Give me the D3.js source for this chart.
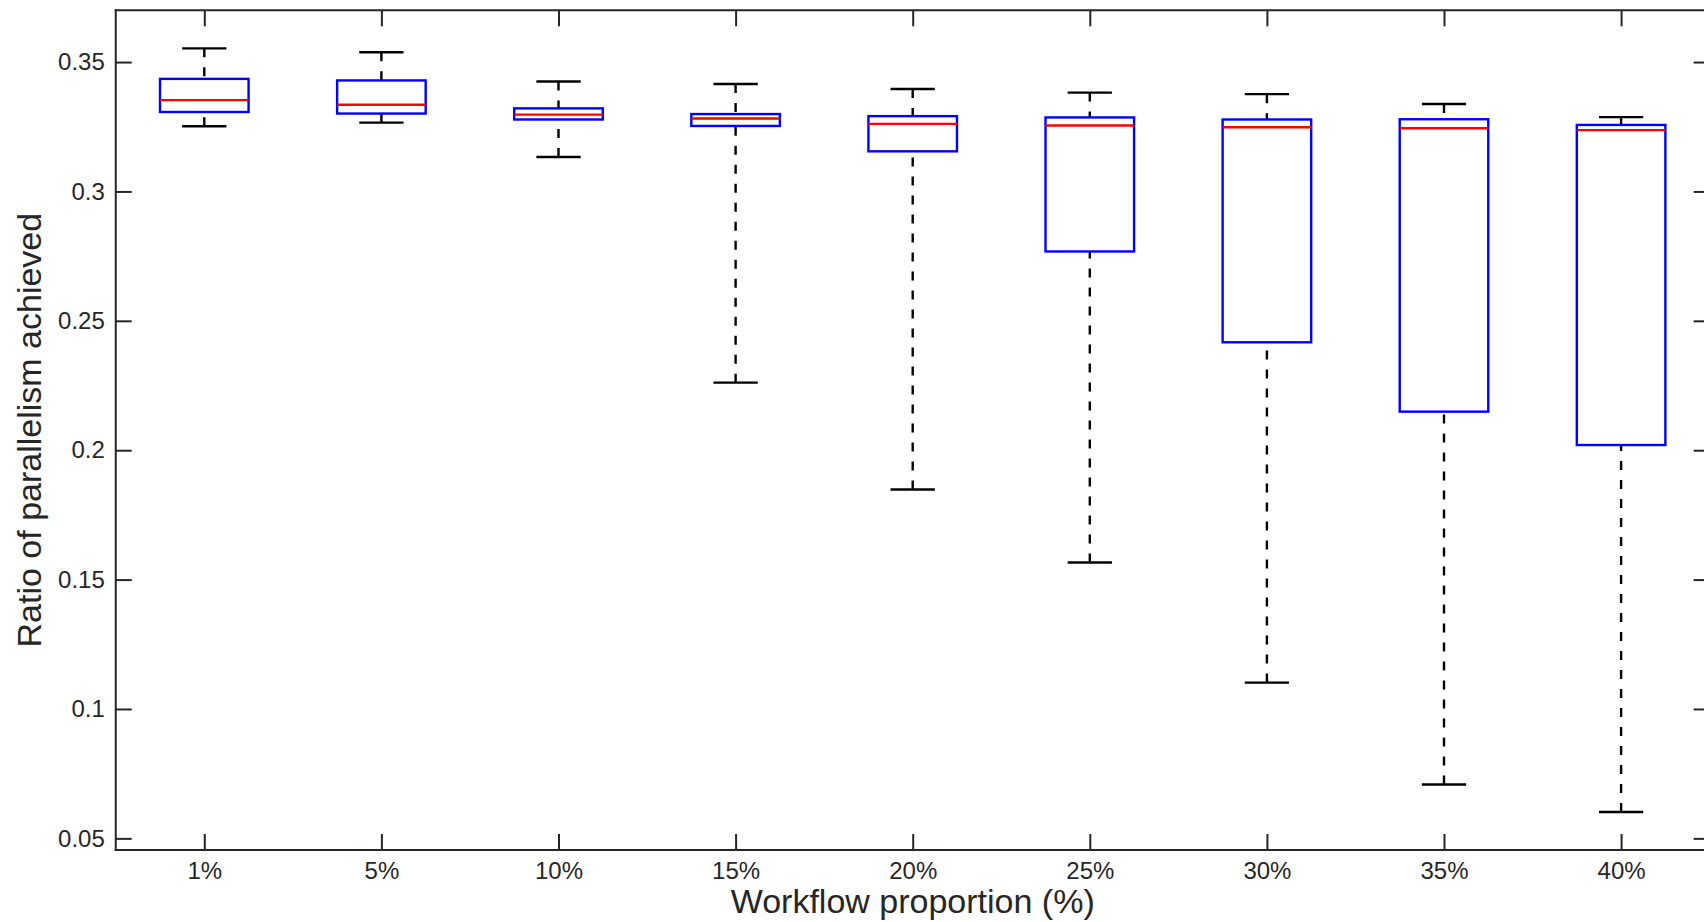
<!DOCTYPE html>
<html>
<head>
<meta charset="utf-8">
<script src="https://cdn.jsdelivr.net/npm/d3@7"></script>
<style>
  html, body { margin: 0; padding: 0; background: #ffffff; }
  svg { display: block; }
  text { font-family: "Liberation Sans", Arial, Helvetica, sans-serif; fill: #262626; }
</style>
</head>
<body>
<svg id="chart" width="1704" height="922"></svg>
<script>
// ---- data ----
const categories  = ["1%", "5%", "10%", "15%", "20%", "25%", "30%", "35%", "40%"];
const whiskerHigh = [0.3553, 0.3538, 0.3425, 0.3415, 0.3396, 0.3382, 0.3376, 0.3338, 0.3287];
const q3          = [0.3435, 0.3429, 0.3321, 0.3299, 0.3291, 0.3286, 0.3278, 0.3279, 0.3257];
const medians     = [0.3353, 0.3335, 0.3297, 0.3282, 0.3261, 0.3255, 0.3248, 0.3244, 0.3237];
const q1          = [0.3307, 0.3301, 0.3278, 0.3253, 0.3155, 0.2768, 0.2417, 0.2149, 0.2020];
const whiskerLow  = [0.3252, 0.3266, 0.3133, 0.2261, 0.1848, 0.1566, 0.1102, 0.0708, 0.0602];
const yTicks      = [0.05, 0.1, 0.15, 0.2, 0.25, 0.3, 0.35];
const yTickLabels = ["0.05", "0.1", "0.15", "0.2", "0.25", "0.3", "0.35"];
const xTitle = "Workflow proportion (%)";
const yTitle = "Ratio of parallelism achieved";

(function () {
// ---- layout ----
const svg = d3.select("#chart");
const pLeft = 115.75, pRight = 1709.65, pTop = 10.3, pBottom = 850;
const axisColor = "#262626";
const tickLen = 16;
const lw = 2.4;

const x = d3.scaleLinear().domain([0.5, categories.length + 0.5]).range([pLeft, pRight]);
const y = d3.scaleLinear().domain([0.0455, 0.370]).range([pBottom, pTop]);
const boxHalf = 0.25, capHalf = 0.125;

const data = categories.map((c, i) => ({
  pos: i + 1, cat: c, hi: whiskerHigh[i], q3: q3[i], med: medians[i], q1: q1[i], lo: whiskerLow[i]
}));

// ---- axes ----
function styleAxis(g, labels) {
  g.select(".domain").remove();
  g.selectAll(".tick line").attr("stroke", axisColor).attr("stroke-width", 2);
  if (!labels) g.selectAll(".tick text").remove();
  else g.selectAll(".tick text").style("font-size", "24px").attr("fill", axisColor);
}

const xBottom = d3.axisBottom(x).tickValues(data.map(d => d.pos))
  .tickFormat((d, i) => categories[i]).tickSizeInner(-tickLen).tickSizeOuter(0).tickPadding(12);
svg.append("g").attr("transform", `translate(0,${pBottom})`).call(xBottom).call(g => styleAxis(g, true));

const xTopAxis = d3.axisTop(x).tickValues(data.map(d => d.pos)).tickSizeInner(-tickLen).tickSizeOuter(0);
svg.append("g").attr("transform", `translate(0,${pTop})`).call(xTopAxis).call(g => styleAxis(g, false));

const yLeft = d3.axisLeft(y).tickValues(yTicks).tickFormat((d, i) => yTickLabels[i])
  .tickSizeInner(-tickLen).tickSizeOuter(0).tickPadding(11);
svg.append("g").attr("transform", `translate(${pLeft},0)`).call(yLeft).call(g => styleAxis(g, true));

const yRightAxis = d3.axisRight(y).tickValues(yTicks).tickSizeInner(-tickLen).tickSizeOuter(0);
svg.append("g").attr("transform", `translate(${pRight},0)`).call(yRightAxis).call(g => styleAxis(g, false));

// frame
const frame = svg.append("g");
frame.append("line").attr("x1", pLeft).attr("x2", pRight).attr("y1", pBottom).attr("y2", pBottom);
frame.append("line").attr("x1", pLeft).attr("x2", pRight).attr("y1", pTop).attr("y2", pTop);
frame.append("line").attr("x1", pLeft).attr("x2", pLeft).attr("y1", pTop).attr("y2", pBottom);
frame.append("line").attr("x1", pRight).attr("x2", pRight).attr("y1", pTop).attr("y2", pBottom);
frame.selectAll("line").attr("stroke", axisColor).attr("stroke-width", 2).attr("stroke-linecap", "square");

// ---- boxes ----
const boxes = svg.append("g").selectAll("g").data(data).join("g");

boxes.append("line")
  .attr("x1", d => x(d.pos)).attr("x2", d => x(d.pos))
  .attr("y1", d => y(d.hi)).attr("y2", d => y(d.q3))
  .attr("stroke", "#000").attr("stroke-width", lw).attr("stroke-dasharray", "9,10");
boxes.append("line")
  .attr("x1", d => x(d.pos)).attr("x2", d => x(d.pos))
  .attr("y1", d => y(d.lo)).attr("y2", d => y(d.q1))
  .attr("stroke", "#000").attr("stroke-width", lw).attr("stroke-dasharray", "9,10");
boxes.append("line")
  .attr("x1", d => x(d.pos - capHalf)).attr("x2", d => x(d.pos + capHalf))
  .attr("y1", d => y(d.hi)).attr("y2", d => y(d.hi))
  .attr("stroke", "#000").attr("stroke-width", lw);
boxes.append("line")
  .attr("x1", d => x(d.pos - capHalf)).attr("x2", d => x(d.pos + capHalf))
  .attr("y1", d => y(d.lo)).attr("y2", d => y(d.lo))
  .attr("stroke", "#000").attr("stroke-width", lw);
boxes.append("rect")
  .attr("x", d => x(d.pos - boxHalf)).attr("width", d => x(d.pos + boxHalf) - x(d.pos - boxHalf))
  .attr("y", d => y(d.q3)).attr("height", d => y(d.q1) - y(d.q3))
  .attr("fill", "none").attr("stroke", "#0000ff").attr("stroke-width", lw);
boxes.append("line")
  .attr("x1", d => x(d.pos - boxHalf)).attr("x2", d => x(d.pos + boxHalf))
  .attr("y1", d => y(d.med)).attr("y2", d => y(d.med))
  .attr("stroke", "#ff0000").attr("stroke-width", lw);

// ---- titles ----
svg.append("text")
  .attr("x", (pLeft + pRight) / 2).attr("y", 913)
  .attr("text-anchor", "middle").style("font-size", "34px")
  .text(xTitle);
svg.append("text")
  .attr("transform", `translate(41,${(pTop + pBottom) / 2}) rotate(-90)`)
  .attr("text-anchor", "middle").style("font-size", "34px")
  .text(yTitle);
})();
</script>
</body>
</html>
